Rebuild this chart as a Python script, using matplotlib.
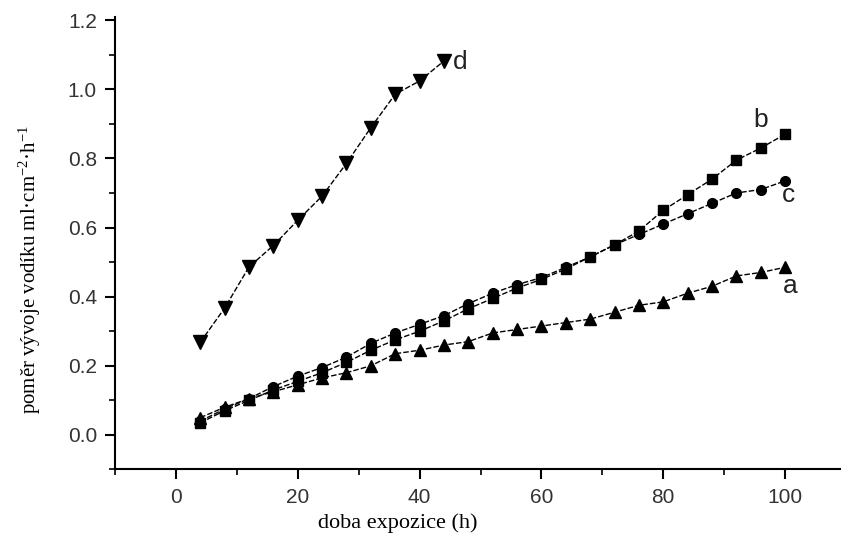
import matplotlib
matplotlib.use("Agg")
from matplotlib import pyplot as plt
from matplotlib.ticker import MultipleLocator

plt.rcParams["mathtext.fontset"] = "custom"
plt.rcParams["mathtext.rm"] = "Liberation Serif"
plt.rcParams["mathtext.it"] = "Liberation Serif:italic"

# doba expozice (h)
hours = [4, 8, 12, 16, 20, 24, 28, 32, 36, 40, 44, 48, 52, 56, 60,
         64, 68, 72, 76, 80, 84, 88, 92, 96, 100]
hours_d = [4, 8, 12, 16, 20, 24, 28, 32, 36, 40, 44]

a = [0.05, 0.08, 0.105, 0.125, 0.145, 0.165, 0.18, 0.20, 0.235, 0.245,
     0.26, 0.27, 0.295, 0.305, 0.315, 0.325, 0.335, 0.355, 0.375, 0.385,
     0.41, 0.43, 0.46, 0.47, 0.485]
b = [0.035, 0.07, 0.10, 0.13, 0.155, 0.18, 0.21, 0.245, 0.275, 0.30,
     0.33, 0.365, 0.395, 0.425, 0.45, 0.48, 0.515, 0.55, 0.59, 0.65,
     0.695, 0.74, 0.795, 0.83, 0.87]
c = [0.04, 0.075, 0.105, 0.14, 0.17, 0.195, 0.225, 0.265, 0.295, 0.32,
     0.345, 0.38, 0.41, 0.435, 0.455, 0.485, 0.515, 0.55, 0.58, 0.61,
     0.64, 0.67, 0.70, 0.71, 0.735]
d = [0.268, 0.367, 0.486, 0.548, 0.621, 0.691, 0.786, 0.889, 0.986,
     1.024, 1.082]

fig = plt.figure(figsize=(8.43, 5.39), dpi=100)
ax = fig.add_axes([0.1364, 0.129, 0.86, 0.84])

dash = (0, (4, 1.5))
ax.plot(hours, a, linestyle=dash, color="black", lw=1, marker="^", ms=9)
ax.plot(hours, b, linestyle=dash, color="black", lw=1, marker="s", ms=7)
ax.plot(hours, c, linestyle=dash, color="black", lw=1, marker="o", ms=7)
ax.plot(hours_d, d, linestyle=dash, color="black", lw=1, marker="v", ms=10)

lab = dict(fontsize=19, color="#222222", family="Liberation Sans")
ax.text(45.5, 1.08, "d", va="center", ha="left", **lab)
ax.text(96, 0.91, "b", va="center", ha="center", **lab)
ax.text(100.5, 0.695, "c", va="center", ha="center", **lab)
ax.text(100.8, 0.43, "a", va="center", ha="center", **lab)

ax.set_xlim(-10, 109)
ax.set_ylim(-0.1, 1.21)
ax.xaxis.set_major_locator(MultipleLocator(20))
ax.xaxis.set_minor_locator(MultipleLocator(10))
ax.yaxis.set_major_locator(MultipleLocator(0.2))
ax.yaxis.set_minor_locator(MultipleLocator(0.1))
ax.set_yticks([0.0, 0.2, 0.4, 0.6, 0.8, 1.0, 1.2])
ax.set_yticklabels(["0.0", "0.2", "0.4", "0.6", "0.8", "1.0", "1.2"])

for side in ["top", "right"]:
    ax.spines[side].set_visible(False)
for side in ["left", "bottom"]:
    ax.spines[side].set_linewidth(1.5)

ax.tick_params(which="major", length=7, width=1.5, labelsize=15,
               labelcolor="#333333", pad=6)
ax.tick_params(which="minor", length=4, width=1.2)
for t in ax.get_xticklabels() + ax.get_yticklabels():
    t.set_family("Liberation Sans")

fig.text(0.472, 0.03, "doba expozice (h)", ha="center", va="center",
         family="Liberation Serif", fontsize=16)
fig.text(0.036, 0.50, "poměr vývoje vodíku ml·cm$^{-2}$·h$^{-1}$",
         ha="center", va="center", rotation=90,
         family="Liberation Serif", fontsize=15)

fig.savefig("out.png", dpi=100)
